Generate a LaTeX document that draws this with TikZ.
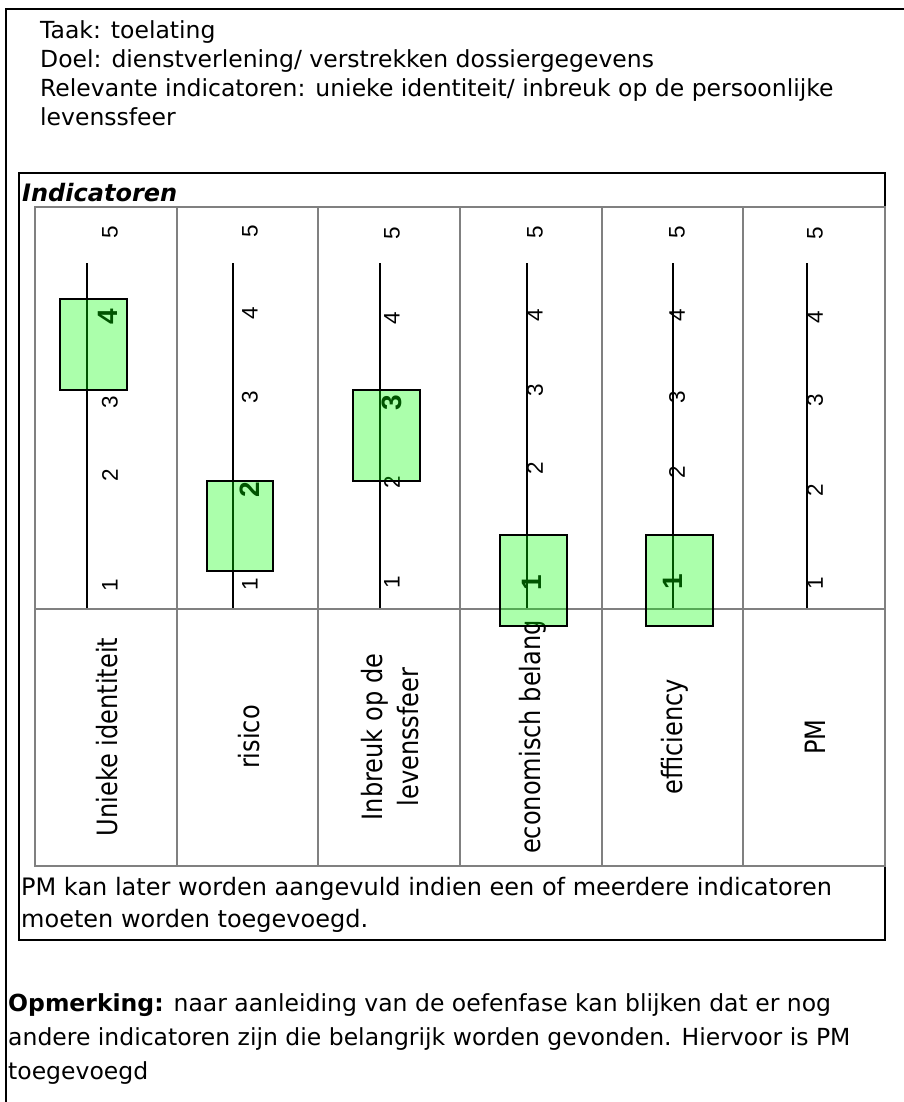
\documentclass[tikz,border=0pt]{standalone}
\usepackage{fontspec}
\setmainfont{Liberation Sans}
\newfontfamily\tahomafont{DejaVu Sans}[FakeStretch=0.86]
\newfontfamily\notefont{DejaVu Sans}
\usetikzlibrary{positioning}
\definecolor{gridgray}{RGB}{128,128,128}
\definecolor{scoregreen}{RGB}{0,255,0}

\begin{document}
\begin{tikzpicture}[x=1pt, y=-1pt, line cap=rect, line join=miter,
	txt/.style={anchor=base west, inner sep=0pt, font=\notefont\fontsize{23.5}{29}\selectfont},
	note/.style={anchor=base west, inner sep=0pt, font=\notefont\fontsize{24}{29}\selectfont},
	tick/.style={rotate=90, inner sep=0pt, font=\fontsize{22.5}{24}\selectfont},
	score/.style={rotate=90, inner sep=0pt, font=\bfseries\fontsize{28}{30}\selectfont},
	collabel/.style={rotate=90, inner sep=0pt, align=center, font=\tahomafont\fontsize{28}{36}\selectfont},
	scorebox/.style={draw=black, line width=2pt, fill=scoregreen, fill opacity=0.33, draw opacity=1, minimum width=66.7pt, minimum height=90.7pt, inner sep=0pt},
	axis/.style={black, line width=2pt, line cap=butt},
	gridline/.style={gridgray, line width=2pt}]

		\useasboundingbox (0,0) rectangle (903,1102);

		% outer frame (only top and left edge visible)
		\coordinate (frameTL) at (6,9);
		\draw [black,line width=2pt] (frameTL)--(903,9);
		\draw [black,line width=2pt] (frameTL)--(6,1102);

		% header
		\node[txt] (taak) at (40,38.5) {Taak: toelating};
		\node[txt] (doel) at (40,67.5) {Doel: dienstverlening/ verstrekken dossiergegevens};
		\node[txt] (relevant) at (40,96.5) {Relevante indicatoren: unieke identiteit/ inbreuk op de persoonlijke};
		\node[txt] (relevant2) at (40,125.5) {levenssfeer};

		% indicator table
		\draw [black,line width=2pt] (19,172.7) rectangle (885,940);
		\node[txt, font=\notefont\bfseries\itshape\fontsize{24}{29}\selectfont] (indic) at (22,201) {Indicatoren};

		\draw [gridline] (35,206.7) rectangle (885,866);
		\draw [gridline] (35,609) -- (885,609);
		\draw [gridline] (176.7,206.7) -- (176.7,866);
		\draw [gridline] (318.3,206.7) -- (318.3,866);
		\draw [gridline] (460,206.7) -- (460,866);
		\draw [gridline] (601.7,206.7) -- (601.7,866);
		\draw [gridline] (743.3,206.7) -- (743.3,866);

		% column labels
		\node[collabel] (lab1) at (107.5,737) {Unieke identiteit};
		\node[collabel] (lab2) at (249.5,737) {risico};
		\node[collabel] (lab3) at (390,737) {Inbreuk op de\\levenssfeer};
		\node[collabel] (lab4) at (533,737) {economisch belang};
		\node[collabel] (lab5) at (675,737) {efficiency};
		\node[collabel] (lab6) at (815,737) {PM};

		% scales
		\coordinate (top1) at (86.7,263.3);  \coordinate (bot1) at (86.7,608);
		\coordinate (top2) at (233.3,263.3); \coordinate (bot2) at (233.3,608);
		\coordinate (top3) at (380,263.3);   \coordinate (bot3) at (380,608);
		\coordinate (top4) at (526.7,263.3); \coordinate (bot4) at (526.7,608);
		\coordinate (top5) at (673.3,263.3); \coordinate (bot5) at (673.3,608);
		\coordinate (top6) at (806.7,263.3); \coordinate (bot6) at (806.7,608);
		\draw [axis] (bot1)--(top1);
		\draw [axis] (bot2)--(top2);
		\draw [axis] (bot3)--(top3);
		\draw [axis] (bot4)--(top4);
		\draw [axis] (bot5)--(top5);
		\draw [axis] (bot6)--(top6);

		% tick numbers
		\node[tick] (c1v5) at (110,232) {5};
		\node[tick] (c1v3) at (110,402) {3};
		\node[tick] (c1v2) at (110,475) {2};
		\node[tick] (c1v1) at (110,585) {1};
		\node[tick] (c2v5) at (250,231) {5};
		\node[tick] (c2v4) at (250,313) {4};
		\node[tick] (c2v3) at (250,397) {3};
		\node[tick] (c2v1) at (250,584) {1};
		\node[tick] (c3v5) at (392,233) {5};
		\node[tick] (c3v4) at (392,318) {4};
		\node[tick] (c3v2) at (392,482) {2};
		\node[tick] (c3v1) at (392,582) {1};
		\node[tick] (c4v5) at (535,232) {5};
		\node[tick] (c4v4) at (535,315) {4};
		\node[tick] (c4v3) at (535,390) {3};
		\node[tick] (c4v2) at (535,468) {2};
		\node[tick] (c5v5) at (677,232) {5};
		\node[tick] (c5v4) at (677,315) {4};
		\node[tick] (c5v3) at (677,397) {3};
		\node[tick] (c5v2) at (677,472) {2};
		\node[tick] (c6v5) at (815,233) {5};
		\node[tick] (c6v4) at (815,317) {4};
		\node[tick] (c6v3) at (815,400) {3};
		\node[tick] (c6v2) at (815,490) {2};
		\node[tick] (c6v1) at (815,583) {1};

		% scores
		\node[score] (s1) at (108,317) {4};
		\node[score] (s2) at (250,490) {2};
		\node[score] (s3) at (392,403) {3};
		\node[score] (s4) at (532,583) {1};
		\node[score] (s5) at (673,582) {1};
		\node[scorebox] (box1) at (93.3,344.7) {};
		\node[scorebox] (box2) at (240,526) {};
		\node[scorebox] (box3) at (386.7,435.5) {};
		\node[scorebox] (box4) at (533.5,580.5) {};
		\node[scorebox] (box5) at (679.3,580.8) {};

		% remark under table
		\node[note] (pm1) at (21,895) {PM kan later worden aangevuld indien een of meerdere indicatoren};
		\node[note] (pm2) at (21,927) {moeten worden toegevoegd.};

		% remark
		\node[txt] (opm1) at (8,1011) {\textbf{Opmerking:} naar aanleiding van de oefenfase kan blijken dat er nog};
		\node[txt] (opm2) at (8,1045) {andere indicatoren zijn die belangrijk worden gevonden. Hiervoor is PM};
		\node[txt] (opm3) at (8,1079) {toegevoegd};
\end{tikzpicture}
\end{document}
